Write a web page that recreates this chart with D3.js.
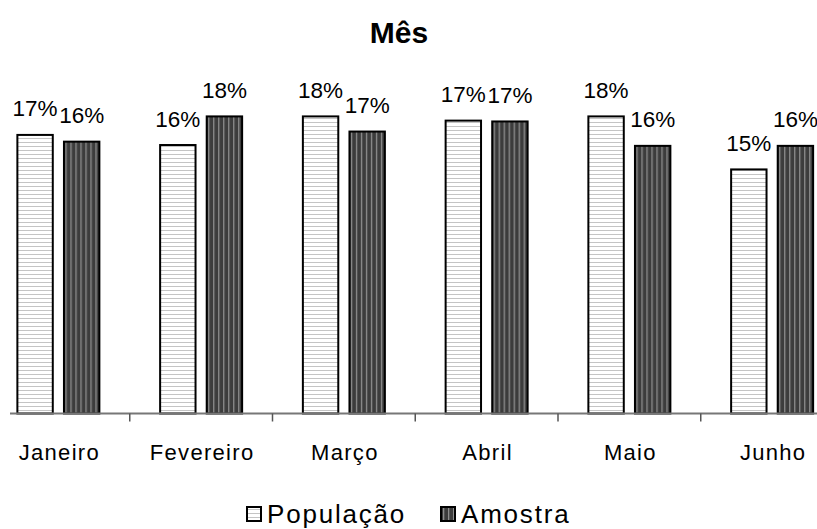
<!DOCTYPE html>
<html>
<head>
<meta charset="utf-8">
<script src="https://cdn.jsdelivr.net/npm/d3@7"></script>
<style>
  html, body { margin: 0; padding: 0; background: #ffffff; }
  svg { display: block; }
  text { font-family: "Liberation Sans", Arial, Helvetica, sans-serif; fill: #000; }
</style>
</head>
<body>
<svg id="chart" width="817" height="529"></svg>
<script>
// Share of records per month (percent of each series' total)
const months = ["Janeiro", "Fevereiro", "Março", "Abril", "Maio", "Junho"];
const seriesNames = ["População", "Amostra"];
const populacao = [16.6, 16.0, 17.7, 17.45, 17.7, 14.55];
const amostra = [16.2, 17.7, 16.8, 17.4, 15.95, 15.95];
const title = "Mês";

const values = { "População": populacao, "Amostra": amostra };

const svg = d3.select("#chart");
const W = 817, H = 529;

// Patterns: light horizontal hatching and dark vertical striping
const defs = svg.append("defs");
const pPop = defs.append("pattern")
  .attr("id", "patPop").attr("patternUnits", "userSpaceOnUse")
  .attr("width", 8).attr("height", 4);
pPop.append("rect").attr("width", 8).attr("height", 4).attr("fill", "#ffffff");
pPop.append("rect").attr("y", 2).attr("width", 8).attr("height", 1).attr("fill", "#c4c4c4");

const pAm = defs.append("pattern")
  .attr("id", "patAm").attr("patternUnits", "userSpaceOnUse")
  .attr("width", 5).attr("height", 8);
pAm.append("rect").attr("width", 5).attr("height", 8).attr("fill", "#3c3c3c");
pAm.append("rect").attr("x", 2).attr("width", 1.3).attr("height", 8).attr("fill", "#8e8e8e");

const fills = { "População": "url(#patPop)", "Amostra": "url(#patAm)" };

// Scales
const x = d3.scaleBand().domain(months).range([-13, 843.5]).padding(0);
const xs = d3.scaleBand().domain(seriesNames).range([-41, 41]).paddingInner(0.24).paddingOuter(0);
const y = d3.scaleLinear().domain([0, 20]).range([414.3, 414.3 - 16.83 * 20]);
const baseY = 413.5;

// Title
svg.append("text")
  .attr("x", 399).attr("y", 43)
  .attr("text-anchor", "middle")
  .style("font-size", "30px").style("font-weight", "bold")
  .text(title);

// Bars
const groups = svg.append("g").selectAll("g")
  .data(months)
  .join("g")
  .attr("transform", d => `translate(${x(d) + x.bandwidth() / 2},0)`);

groups.selectAll("rect")
  .data((m, i) => seriesNames.map(s => ({ s, v: values[s][i] })))
  .join("rect")
  .attr("x", d => xs(d.s))
  .attr("width", xs.bandwidth())
  .attr("y", d => y(d.v))
  .attr("height", d => baseY - y(d.v))
  .attr("fill", d => fills[d.s])
  .attr("stroke", "#000")
  .attr("stroke-width", 2);

// Value labels
groups.selectAll("text.val")
  .data((m, i) => seriesNames.map(s => ({ s, v: values[s][i] })))
  .join("text")
  .attr("class", "val")
  .attr("x", d => xs(d.s) + xs.bandwidth() / 2)
  .attr("y", d => y(d.v) - 18.5)
  .attr("text-anchor", "middle")
  .style("font-size", "22.5px")
  .text(d => d3.format(".0f")(d.v) + "%");

// Category axis with ticks between categories
const axisG = svg.append("g");
axisG.append("line")
  .attr("x1", 10).attr("x2", W)
  .attr("y1", baseY).attr("y2", baseY)
  .attr("stroke", "#777").attr("stroke-width", 2);
axisG.selectAll("line.tick")
  .data(months.slice(1))
  .join("line")
  .attr("class", "tick")
  .attr("x1", d => x(d)).attr("x2", d => x(d))
  .attr("y1", baseY).attr("y2", baseY + 8)
  .attr("stroke", "#555").attr("stroke-width", 1.5);
axisG.selectAll("text")
  .data(months)
  .join("text")
  .attr("x", d => x(d) + x.bandwidth() / 2 + 1)
  .attr("y", 460)
  .attr("text-anchor", "middle")
  .style("font-size", "22px")
  .style("letter-spacing", "1.3px")
  .text(d => d);

// Legend
const legendItems = [
  { s: "População", x: 247 },
  { s: "Amostra", x: 441 }
];
const lg = svg.append("g").selectAll("g")
  .data(legendItems)
  .join("g")
  .attr("transform", d => `translate(${d.x},507)`);
lg.append("rect")
  .attr("width", 14).attr("height", 14)
  .attr("fill", d => fills[d.s])
  .attr("stroke", "#000").attr("stroke-width", 2);
lg.append("text")
  .attr("x", 20).attr("y", 16)
  .style("font-size", "26px")
  .style("letter-spacing", "1.8px")
  .text(d => d.s);
</script>
</body>
</html>
